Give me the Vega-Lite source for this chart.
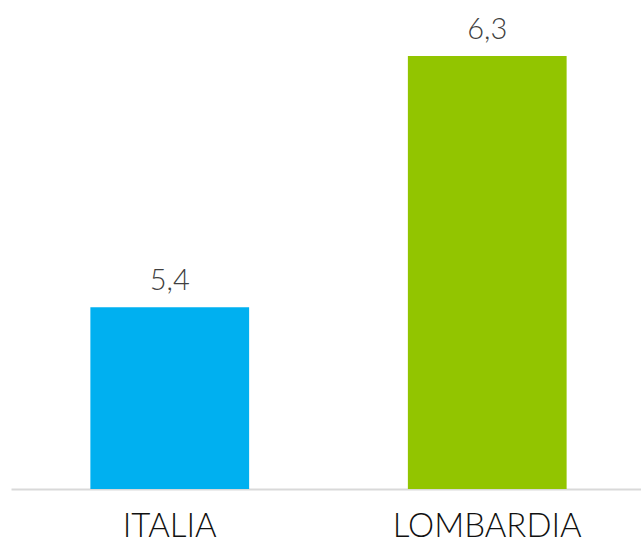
{
  "$schema": "https://vega.github.io/schema/vega-lite/v6.json",
  "autosize": "none",
  "width": 635,
  "height": 489,
  "padding": {"left": 11, "top": 0, "right": 0, "bottom": 52},
  "background": "white",
  "config": {"view": {"stroke": null}, "font": "Lato"},
  "data": {"values": [
    {"regione": "ITALIA", "valore": 5.4, "etichetta": "5,4"},
    {"regione": "LOMBARDIA", "valore": 6.3, "etichetta": "6,3"}
  ]},
  "encoding": {
    "x": {"field": "regione", "type": "nominal", "sort": null,
      "scale": {"paddingInner": 0.5, "paddingOuter": 0.25},
      "axis": {"title": null, "labelAngle": 0, "ticks": false, "domainColor": "#d9d9d9", "domainWidth": 2,
        "labelFontSize": 33, "labelColor": "#111111", "labelPadding": 21, "labelLimit": 0, "labelFont": "Lato", "labelFontWeight": 300}},
    "y": {"field": "valore", "type": "quantitative", "scale": {"domain": [4.75, 6.5], "zero": false}, "axis": null}
  },
  "layer": [
    {"mark": {"type": "bar"},
     "encoding": {
       "y2": {"datum": 4.75},
       "color": {"field": "regione", "type": "nominal", "scale": {"range": ["#00b0f0", "#92c500"]}, "legend": null}
     }},
    {"mark": {"type": "text", "baseline": "alphabetic", "dy": -17, "fontSize": 29, "color": "#404040", "font": "Lato", "fontWeight": 300},
     "encoding": {"text": {"field": "etichetta"}}}
  ]
}
